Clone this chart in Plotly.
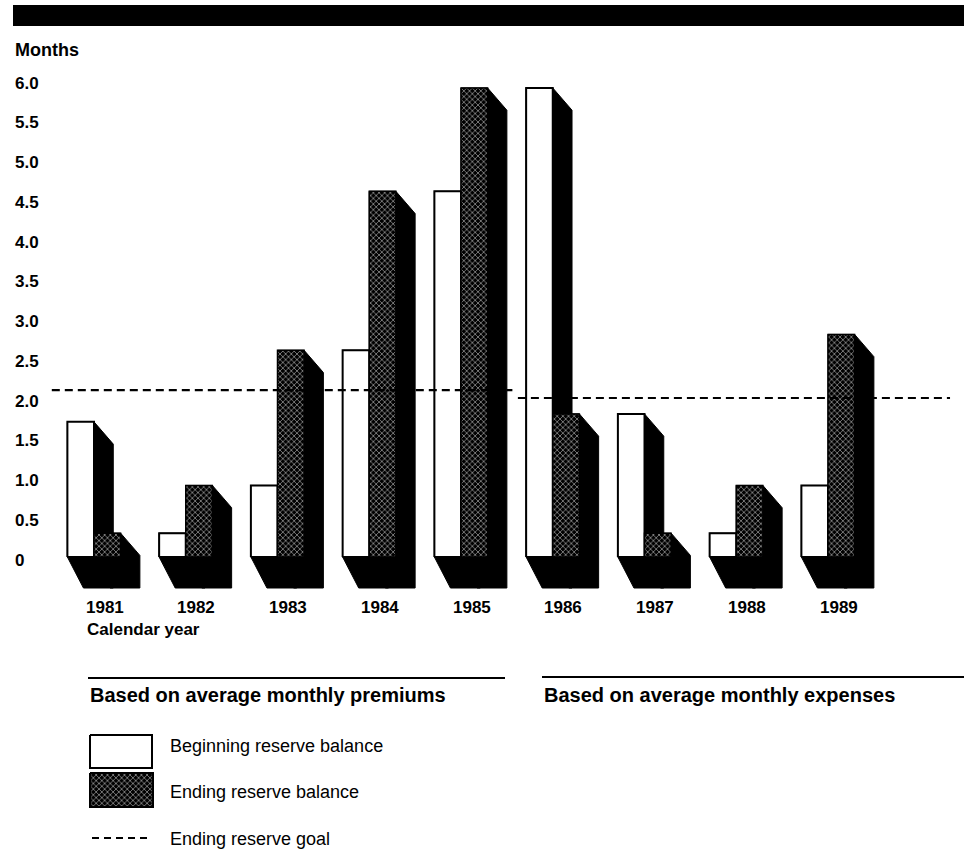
import plotly.graph_objects as go

# ---- data -------------------------------------------------------------
years = ["1981", "1982", "1983", "1984", "1985", "1986", "1987", "1988", "1989"]
beginning_balance = [1.7, 0.3, 0.9, 2.6, 4.6, 5.9, 1.8, 0.3, 0.9]
ending_balance = [0.3, 0.9, 2.6, 4.6, 5.9, 1.8, 0.3, 0.9, 2.8]

# reserve goal: premium basis for 1981-1985, expense basis for 1986-1989
goal_premiums = 2.1
goal_expenses = 2.0
premium_years = years[:5]
expense_years = years[5:]

y_tick_values = [6.0, 5.5, 5.0, 4.5, 4.0, 3.5, 3.0, 2.5, 2.0, 1.5, 1.0, 0.5, 0.0]
y_tick_labels = ["6.0", "5.5", "5.0", "4.5", "4.0", "3.5", "3.0", "2.5", "2.0",
                 "1.5", "1.0", "0.5", "0"]

# ---- geometry / style -------------------------------------------------
W, H = 964, 852
PX_X = 91.75          # pixels per category step
PX_Y = 79.5           # pixels per month
X0_PX = 94            # pixel of first category centre
Y0_PX = 557           # pixel of zero line
PLOT_TOP, PLOT_BOT = 40, 620

BAR_W = 0.29          # width of each front face (category units)
DX_TOP = 0.21         # oblique depth, top edge
DY_TOP = 0.28
DX_BOT = 0.175        # oblique depth, base
DY_BOT = 0.39

FONT = "Liberation Sans, Arial, Helvetica, sans-serif"
# dark crosshatch: white diagonal hatching on black
PATTERN = dict(shape="x", fgcolor="white", bgcolor="black", size=4, solidity=0.4)

x_range = [-X0_PX / PX_X, (W - X0_PX) / PX_X]
y_range = [(Y0_PX - PLOT_BOT) / PX_Y, (Y0_PX - PLOT_TOP) / PX_Y]


def front(x0, x1, h):
    return [x0, x0, x1, x1, x0, None], [0, h, h, 0, 0, None]


def depth(x0, x1, h):
    xs = [x0, x0, x1, x1 + DX_TOP, x1 + DX_TOP, x0 + DX_BOT, x0, None]
    ys = [0, h, h, h - DY_TOP, -DY_BOT, -DY_BOT, 0, None]
    return xs, ys


dep_x, dep_y = [], []
beg_x, beg_y = [], []
end_x, end_y = [], []
for i, (b, e) in enumerate(zip(beginning_balance, ending_balance)):
    for (x0, x1, h) in [(i - BAR_W, i, b), (i, i + BAR_W, e)]:
        xs, ys = depth(x0, x1, h)
        dep_x += xs
        dep_y += ys
    xs, ys = front(i - BAR_W, i, b)
    beg_x += xs
    beg_y += ys
    xs, ys = front(i, i + BAR_W, e)
    end_x += xs
    end_y += ys

fig = go.Figure()

# oblique black depth of every bar
fig.add_trace(go.Scatter(x=dep_x, y=dep_y, mode="lines", fill="toself",
                         fillcolor="black", line=dict(color="black", width=1),
                         hoverinfo="skip", showlegend=False))
# front faces
fig.add_trace(go.Scatter(x=beg_x, y=beg_y, mode="lines", fill="toself",
                         fillcolor="white", line=dict(color="black", width=2),
                         name="Beginning reserve balance", showlegend=False))
fig.add_trace(go.Scatter(x=end_x, y=end_y, mode="lines", fill="toself",
                         fillcolor="black", fillpattern=PATTERN,
                         line=dict(color="black", width=1.5),
                         name="Ending reserve balance", showlegend=False))

# reserve goal lines
i_first, i_last = years.index(premium_years[0]), years.index(premium_years[-1])
fig.add_trace(go.Scatter(x=[i_first - 0.46, i_last + 0.56], y=[goal_premiums] * 2,
                         mode="lines", line=dict(color="black", width=2.2, dash="8px,5px"),
                         hoverinfo="skip", showlegend=False))
j_first, j_last = years.index(expense_years[0]), years.index(expense_years[-1])
fig.add_trace(go.Scatter(x=[j_first - 0.38, j_last + 1.33], y=[goal_expenses] * 2,
                         mode="lines", line=dict(color="black", width=2.2, dash="8px,5px"),
                         hoverinfo="skip", showlegend=False))

# ---- legend swatches on a pixel overlay -------------------------------
fig.add_trace(go.Scatter(x=[90, 90, 152, 152, 90], y=[735, 768, 768, 735, 735],
                         xaxis="x2", yaxis="y2", mode="lines", fill="toself",
                         fillcolor="white", line=dict(color="black", width=2),
                         hoverinfo="skip", showlegend=False))
fig.add_trace(go.Scatter(x=[90, 90, 153, 153, 90], y=[773, 807, 807, 773, 773],
                         xaxis="x2", yaxis="y2", mode="lines", fill="toself",
                         fillcolor="black", fillpattern=PATTERN,
                         line=dict(color="black", width=2),
                         hoverinfo="skip", showlegend=False))
fig.add_trace(go.Scatter(x=[92, 148], y=[838, 838], xaxis="x2", yaxis="y2",
                         mode="lines", line=dict(color="black", width=2, dash="7px,5px"),
                         hoverinfo="skip", showlegend=False))

annotations = []
bold = dict(family=FONT, size=17, color="black", weight="bold")

# y tick labels, left aligned
for v, t in zip(y_tick_values, y_tick_labels):
    annotations.append(dict(x=13, xref="x2", y=v, yref="y", yshift=-3,
                            text=t, showarrow=False, xanchor="left",
                            yanchor="middle", font=bold))
# year labels
for i, yr in enumerate(years):
    annotations.append(dict(x=i + 0.115, xref="x", y=607, yref="y2", text=yr,
                            showarrow=False, xanchor="center", yanchor="middle",
                            font=bold))

texts = [
    (13, 50, "Months", dict(bold, size=18)),
    (85, 629, "Calendar year", dict(bold, size=17)),
    (88, 695, "Based on average monthly premiums", dict(bold, size=20)),
    (542, 695, "Based on average monthly expenses", dict(bold, size=20)),
    (168, 746, "Beginning reserve balance", dict(family=FONT, size=18, color="black")),
    (168, 792, "Ending reserve balance", dict(family=FONT, size=18, color="black")),
    (168, 839, "Ending reserve goal", dict(family=FONT, size=18, color="black")),
]
for x, y, t, f in texts:
    annotations.append(dict(x=x, y=y, xref="x2", yref="y2", text=t, showarrow=False,
                            xanchor="left", yanchor="middle", font=f))

shapes = [
    dict(type="rect", xref="x2", yref="y2", x0=13, x1=964, y0=5, y1=26,
         fillcolor="black", line=dict(width=0)),
    dict(type="line", xref="x2", yref="y2", x0=88, x1=505, y0=678, y1=678,
         line=dict(color="black", width=2)),
    dict(type="line", xref="x2", yref="y2", x0=542, x1=964, y0=677, y1=677,
         line=dict(color="black", width=2)),
]

fig.update_layout(
    width=W, height=H,
    margin=dict(l=0, r=0, t=0, b=0),
    paper_bgcolor="white", plot_bgcolor="rgba(0,0,0,0)",
    showlegend=False,
    xaxis=dict(domain=[0, 1], range=x_range, visible=False, fixedrange=True),
    yaxis=dict(domain=[(H - PLOT_BOT) / H, (H - PLOT_TOP) / H], range=y_range,
               visible=False, fixedrange=True),
    xaxis2=dict(domain=[0, 1], range=[0, W], visible=False, anchor="y2",
                fixedrange=True),
    yaxis2=dict(domain=[0, 1], range=[H, 0], visible=False, anchor="x2",
                fixedrange=True),
    annotations=annotations,
    shapes=shapes,
)

fig.write_html("out.html")
